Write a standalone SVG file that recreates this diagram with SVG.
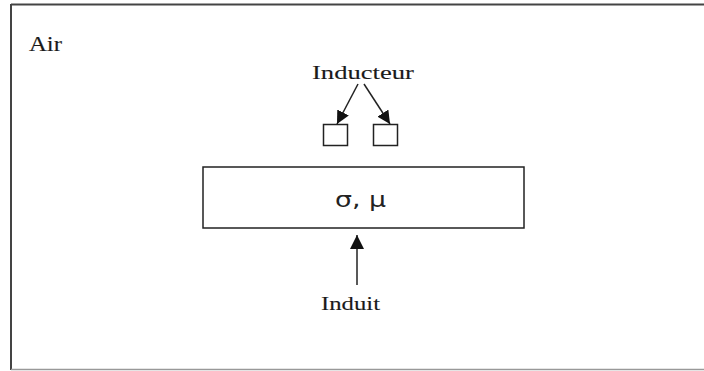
<svg xmlns="http://www.w3.org/2000/svg" width="704" height="371" viewBox="0 0 704 371">
<style>
.t{font-family:"Liberation Serif","Times New Roman",serif;fill:#1a1a1a;stroke:#1a1a1a;stroke-width:0.12;}
.box{fill:#fff;stroke:#222;stroke-width:1.5;}
.ln{stroke:#222;stroke-width:1.5;fill:none;}
</style>
<defs>
<marker id="ah" viewBox="0 0 10 10" refX="10" refY="5" markerWidth="13" markerHeight="13" markerUnits="userSpaceOnUse" orient="auto">
<path d="M0,0 L10,5 L0,10 z" fill="#111"/>
</marker>
<marker id="ah2" viewBox="0 0 10 10" refX="10" refY="5" markerWidth="14" markerHeight="14" markerUnits="userSpaceOnUse" orient="auto">
<path d="M0,0 L10,5 L0,10 z" fill="#111"/>
</marker>
</defs>
<rect width="704" height="371" fill="#fff"/>
<g id="frame">
<line x1="11" y1="4.5" x2="704" y2="4.5" stroke="#444" stroke-width="2"/>
<line x1="11" y1="4" x2="11" y2="370" stroke="#444" stroke-width="2"/>
<line x1="11" y1="369.5" x2="704" y2="369.5" stroke="#999" stroke-width="1.5"/>
</g>
<g id="air"><text class="t" x="29" y="51" font-size="20" textLength="33" lengthAdjust="spacingAndGlyphs">Air</text></g>
<g id="inducteur"><text class="t" x="312" y="79" font-size="19" textLength="102" lengthAdjust="spacingAndGlyphs">Inducteur</text></g>
<g id="coil-left"><rect class="box" x="323.5" y="124.5" width="24" height="21"/></g>
<g id="coil-right"><rect class="box" x="373.5" y="124.5" width="24" height="21"/></g>
<g id="piece"><rect class="box" x="203" y="167" width="321" height="61"/>
<text x="335" y="207" font-family="'DejaVu Sans','Liberation Sans',sans-serif" font-size="21" fill="#222" textLength="51" lengthAdjust="spacingAndGlyphs">σ, μ</text></g>
<g id="induit"><text class="t" x="321" y="310" font-size="19" textLength="59" lengthAdjust="spacingAndGlyphs">Induit</text></g>
<g id="connectors">
<line class="ln" x1="358" y1="84" x2="337" y2="124" marker-end="url(#ah)"/>
<line class="ln" x1="364" y1="84" x2="390" y2="124" marker-end="url(#ah)"/>
<line class="ln" x1="357" y1="285" x2="357" y2="235" marker-end="url(#ah2)"/>
</g>
</svg>
